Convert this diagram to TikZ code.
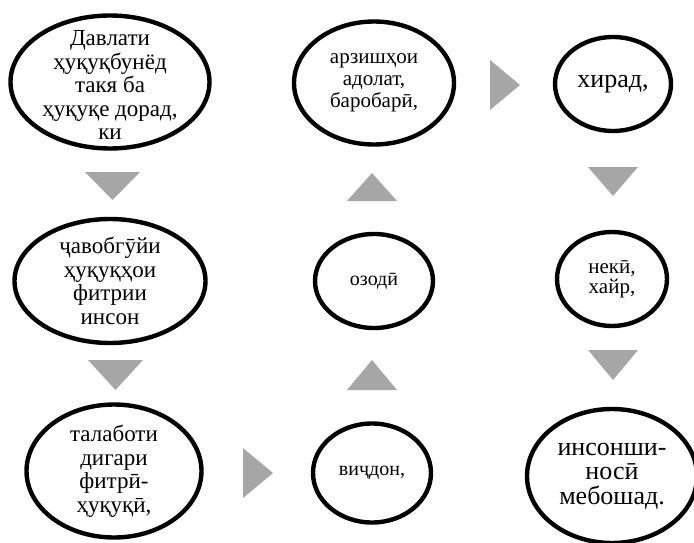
\documentclass[tikz,border=0pt]{standalone}
\usepackage{fontspec}
\setmainfont{Liberation Serif}
\usetikzlibrary{shapes,positioning,calc}

\definecolor{arrgray}{RGB}{166,166,166}
\tikzset{
  bubble/.style={draw=black, line width=4.4pt, ellipse, inner sep=0pt},
  bigtxt/.style={align=center, font=\fontsize{23}{23.5}\selectfont},
  midtxt/.style={align=center, font=\fontsize{21}{22}\selectfont},
  smalltxt/.style={align=center, font=\fontsize{20}{20}\selectfont},
  blockarr/.style={fill=arrgray, draw=none}
}

\begin{document}
\begin{tikzpicture}[x=1pt,y=-1pt]
  \useasboundingbox (0,0) rectangle (694,543);
  %first column
  \node[bubble, minimum width=199pt, minimum height=133pt] (davlat) at (110,82) {};
  \node[bubble, minimum width=191pt, minimum height=124pt] (javob) at (110,281) {};
  \node[bubble, minimum width=175pt, minimum height=133pt] (talab) at (114,471) {};
  %second column
  \node[bubble, minimum width=160pt, minimum height=123pt] (arzish) at (374,83) {};
  \node[bubble, minimum width=118pt, minimum height=94pt] (ozodi) at (374,281) {};
  \node[bubble, minimum width=118pt, minimum height=99pt] (vijdon) at (372,473) {};
  %third column
  \node[bubble, minimum width=116pt, minimum height=94pt] (xirad) at (613,84) {};
  \node[bubble, minimum width=110pt, minimum height=94pt] (neki) at (612,279) {};
  \node[bubble, minimum width=170pt, minimum height=134pt] (inson) at (612,476) {};

  \node[bigtxt] at ([yshift=-3pt]davlat) {Давлати\\ ҳуқуқбунёд\\ такя ба\\ ҳуқуқе дорад,\\ ки};
  \node[bigtxt] at (javob) {ҷавобгӯйи\\ ҳуқуқҳои\\ фитрии\\ инсон};
  \node[bigtxt] at (talab) {талаботи\\ дигари\\ фитрӣ-\\ ҳуқуқӣ,};
  \node[midtxt] at (arzish) {арзишҳои\\ адолат,\\ баробарӣ,};
  \node[smalltxt] at (ozodi) {озодӣ};
  \node[smalltxt] at (vijdon) {виҷдон,};
  \node[bigtxt, font=\fontsize{26}{26}\selectfont] at (xirad) {хирад,};
  \node[smalltxt, font=\fontsize{21}{20}\selectfont] at (neki) {некӣ,\\ хайр,};
  \node[bigtxt, font=\fontsize{26}{24.5}\selectfont] at (inson) {инсонши-\\ носӣ\\ мебошад.};

  %block arrows
  \fill[blockarr] (85,172) -- (140,172) -- (112.5,200) -- cycle;
  \fill[blockarr] (88,360) -- (143,360) -- (115.5,390) -- cycle;
  \fill[blockarr] (243,448) -- (273,473) -- (243,498) -- cycle;
  \fill[blockarr] (347,390) -- (397,390) -- (372,360) -- cycle;
  \fill[blockarr] (347,201) -- (397,201) -- (372,173) -- cycle;
  \fill[blockarr] (490,60) -- (520,85) -- (490,110) -- cycle;
  \fill[blockarr] (588,167) -- (638,167) -- (613,196) -- cycle;
  \fill[blockarr] (588,350) -- (638,350) -- (613,380) -- cycle;
\end{tikzpicture}
\end{document}
